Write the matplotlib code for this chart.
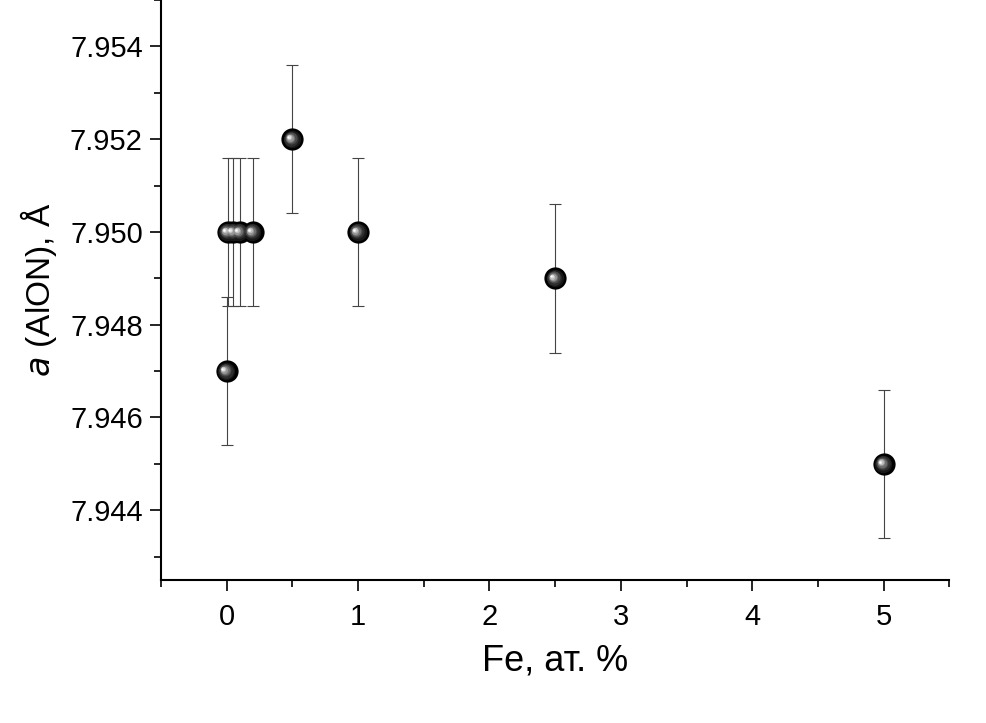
import matplotlib
matplotlib.use("Agg")
import matplotlib.pyplot as plt
from matplotlib.transforms import offset_copy
from matplotlib.ticker import MultipleLocator, FormatStrFormatter

fe = [0.0, 0.01, 0.05, 0.1, 0.2, 0.5, 1.0, 2.5, 5.0]
a_lat = [7.947, 7.950, 7.950, 7.950, 7.950, 7.952, 7.950, 7.949, 7.945]
a_err = [0.0016, 0.0016, 0.0016, 0.0016, 0.0016, 0.0016, 0.0016, 0.0016, 0.0016]

plt.rcParams['font.family'] = ['Liberation Sans', 'DejaVu Sans']
fig = plt.figure(figsize=(9.87, 7.23), dpi=100)
ax = fig.add_axes([0.163, 0.198, 0.799, 0.802])

ax.errorbar(fe, a_lat, yerr=a_err, fmt='none', ecolor='#444444',
            elinewidth=0.8, capsize=4.3, capthick=0.8, zorder=2)
ax.plot(fe, a_lat, 'o', color='black', markersize=16, zorder=3, markeredgewidth=0)
# sphere shading highlight
layers = [(12.5, '#181818'), (10.5, '#2e2e2e'), (8.6, '#4a4a4a'), (6.8, '#6e6e6e'),
          (5.2, '#969696'), (3.8, '#bdbdbd'), (2.5, '#e0e0e0'), (1.3, '#ffffff')]
for i, (ms, col) in enumerate(layers):
    frac = (i + 1) / len(layers)
    tr = offset_copy(ax.transData, fig=fig, x=-3.0 * frac, y=1.6 * frac, units='points')
    ax.plot(fe, a_lat, 'o', color=col, markersize=ms, markeredgewidth=0,
            transform=tr, zorder=4 + i)

ax.set_xlim(-0.5, 5.5)
ax.set_ylim(7.9425, 7.955)
ax.xaxis.set_major_locator(MultipleLocator(1))
ax.xaxis.set_minor_locator(MultipleLocator(0.5))
ax.yaxis.set_major_locator(MultipleLocator(0.002))
ax.yaxis.set_minor_locator(MultipleLocator(0.001))
ax.yaxis.set_major_formatter(FormatStrFormatter('%.3f'))

for s in ['top', 'right']:
    ax.spines[s].set_visible(False)
for s in ['left', 'bottom']:
    ax.spines[s].set_linewidth(1.5)
ax.tick_params(which='major', direction='out', length=8, width=1.2, labelsize=21)
ax.tick_params(which='minor', direction='out', length=5, width=1.2)
ax.tick_params(axis='x', which='major', pad=9)
ax.tick_params(axis='y', which='major', pad=5)

ax.set_xlabel('Fe, ат. %', fontsize=26, labelpad=9)
ax.set_ylabel(r'$\mathit{a}$ (AlON), Å', fontsize=24, labelpad=8)

fig.savefig('out.png', dpi=100)
